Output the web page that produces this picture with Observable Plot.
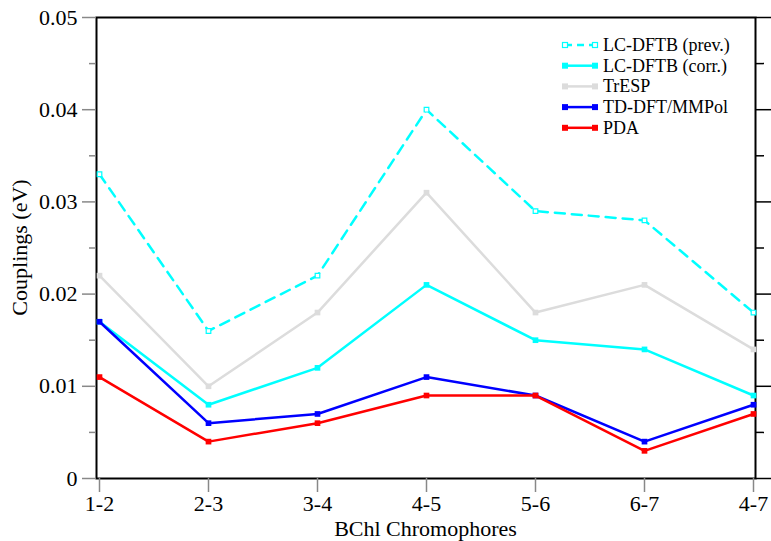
<!DOCTYPE html>
<html><head><meta charset="utf-8">
<script src="https://cdn.jsdelivr.net/npm/d3@7"></script>
<script src="https://cdn.jsdelivr.net/npm/@observablehq/plot@0.6"></script>
<style>body{margin:0;background:#fff}</style>
</head><body><div id="chart"></div>
<script>
const pairs = ["1-2","2-3","3-4","4-5","5-6","6-7","4-7"];
const lcPrev = [0.033,0.016,0.022,0.040,0.029,0.028,0.018];
const lcCorr = [0.017,0.008,0.012,0.021,0.015,0.014,0.009];
const trEsp  = [0.022,0.010,0.018,0.031,0.018,0.021,0.014];
const tdDft  = [0.017,0.006,0.007,0.011,0.009,0.004,0.008];
const pda    = [0.011,0.004,0.006,0.009,0.009,0.003,0.007];
const yMajor = [0,0.01,0.02,0.03,0.04,0.05];
const yMinor = [0.005,0.015,0.025,0.035,0.045];
const yTickLabels = ["0","0.01","0.02","0.03","0.04","0.05"];
const seriesNames = ["LC-DFTB (prev.)","LC-DFTB (corr.)","TrESP","TD-DFT/MMPol","PDA"];
const seriesValues = [lcPrev, lcCorr, trEsp, tdDft, pda];
const seriesColors = ["#00ffff","#00ffff","#dcdcdc","#0000ff","#ff0000"];
const seriesDashed = [true,false,false,false,false];
const seriesHollow = [true,false,false,false,false];
const xTitle = "BChl Chromophores";
const yTitle = "Couplings (eV)";

const W = 771, H = 541;
const mL = 96, mR = 16, mT = 17, mB = 63;
const FONT = "'Liberation Serif', 'Times New Roman', Times, serif";

const marks = [Plot.frame({stroke:"black", strokeWidth:2})];
seriesNames.forEach((name, s) => {
  const rows = pairs.map((p, i) => ({pair: p, value: seriesValues[s][i]}));
  marks.push(Plot.line(rows, {x:"pair", y:"value", stroke: seriesColors[s], strokeWidth: 2.5,
    strokeDasharray: seriesDashed[s] ? "10,7" : null}));
  marks.push(Plot.dot(rows, {x:"pair", y:"value", symbol:"square", r: seriesHollow[s] ? 2.6 : 3.2,
    fill: seriesHollow[s] ? "white" : seriesColors[s], stroke: seriesHollow[s] ? seriesColors[s] : "none",
    strokeWidth: 1.2}));
});
marks.push(
  Plot.axisY(yMajor, {anchor:"left", tickSize:14, stroke:"#888", strokeWidth:1.5, fill:"none", label:null}),
  Plot.axisY(yMinor, {anchor:"left", tickSize:7, stroke:"#888", strokeWidth:1.5, fill:"none", label:null}),
  Plot.axisY(yMajor, {anchor:"right", tickSize:15, stroke:"black", strokeWidth:1.5, fill:"none", label:null}),
  Plot.axisY(yMinor, {anchor:"right", tickSize:8, stroke:"black", strokeWidth:1.5, fill:"none", label:null}),
  Plot.axisY(yMajor, {anchor:"left", tickSize:0, tickPadding:19, label:null, fill:"black",
    fontVariant: "normal", tickFormat: d => yTickLabels[yMajor.indexOf(d)]}),
  Plot.axisX(pairs, {anchor:"bottom", tickSize:14, stroke:"#888", strokeWidth:1.5, fill:"none", label:null}),
  Plot.axisX(pairs, {anchor:"bottom", tickSize:0, tickPadding:17, label:null, fill:"black"})
);

const svgEl = Plot.plot({
  width: W, height: H,
  marginLeft: mL, marginRight: mR, marginTop: mT, marginBottom: mB,
  style: {fontSize: "22px", background: "white", color: "black"},
  x: {type: "point", domain: pairs, padding: 0, axis: null},
  y: {domain: [0, 0.05], axis: null},
  marks
});
document.getElementById("chart").appendChild(svgEl);

const svg = d3.select(svgEl);
// axis titles
svg.append("text").attr("x", (mL + W - mR) / 2).attr("y", 536)
  .attr("text-anchor", "middle").attr("font-size", 22).attr("fill", "black").text(xTitle);
svg.append("text").attr("transform", `translate(27,${(mT + H - mB) / 2}) rotate(-90)`)
  .attr("text-anchor", "middle").attr("font-size", 22).attr("fill", "black").text(yTitle);

// legend
const lg = svg.append("g");
seriesNames.forEach((name, s) => {
  const cy = 45 + s * 20.7;
  const g = lg.append("g");
  g.append("line").attr("x1", 565).attr("x2", 595).attr("y1", cy).attr("y2", cy)
    .attr("stroke", seriesColors[s]).attr("stroke-width", 2.5)
    .attr("stroke-dasharray", seriesDashed[s] ? "7,5" : null);
  [565, 595].forEach(x => {
    if (seriesHollow[s]) {
      g.append("rect").attr("x", x - 2.5).attr("y", cy - 2.5).attr("width", 5).attr("height", 5)
        .attr("fill", "white").attr("stroke", seriesColors[s]).attr("stroke-width", 1.2);
    } else {
      g.append("rect").attr("x", x - 3).attr("y", cy - 3).attr("width", 6).attr("height", 6)
        .attr("fill", seriesColors[s]);
    }
  });
  g.append("text").attr("x", 603).attr("y", cy + 6).attr("text-anchor", "start")
    .attr("font-size", 18).attr("fill", "black").text(name);
});
// apply serif font to every text element
svg.selectAll("text").attr("font-family", FONT).style("font-family", FONT);
svg.attr("font-family", FONT).style("font-family", FONT);
</script>
</body></html>
